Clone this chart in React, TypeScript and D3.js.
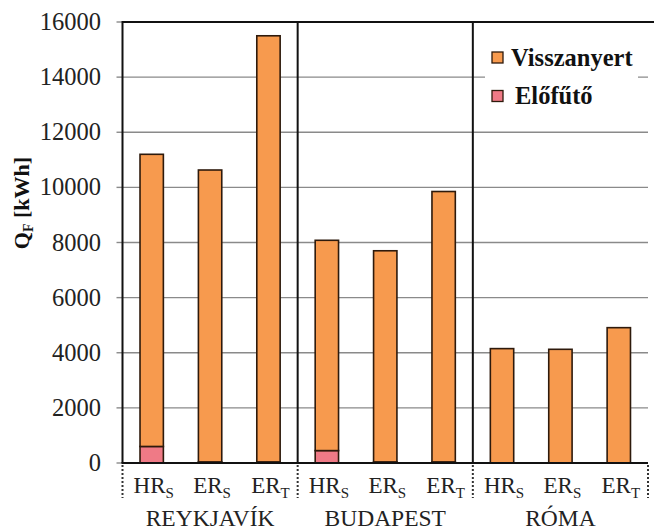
import React from "react";
import * as d3 from "d3";

const cities = ["REYKJAVÍK", "BUDAPEST", "RÓMA"];
const configBase = ["HR", "ER", "ER"];
const configSub = ["S", "S", "T"];
const configKeys = ["HR_S", "ER_S", "ER_T"];
const visszanyert = [
  [10600, 10590, 15460],
  [7630, 7660, 9810],
  [4150, 4125, 4910],
];
const elofuto = [
  [600, 40, 40],
  [450, 40, 40],
  [0, 0, 0],
];
const yTicks = [0, 2000, 4000, 6000, 8000, 10000, 12000, 14000, 16000];
const seriesNames = ["Visszanyert", "Előfűtő"];
const seriesColors = ["#F79A4E", "#EF7A86"];

const W = 654;
const H = 532;
const left = 122.5;
const right = 648;
const top = 22;
const bottom = 463;
const FONT = '"Liberation Serif", "DejaVu Serif", "Times New Roman", serif';

export default function App() {
  const y = d3.scaleLinear().domain([0, 16000]).range([bottom, top]);
  const xg = d3.scaleBand().domain(cities).range([left, right]).padding(0);
  const xi = d3
    .scaleBand()
    .domain(configKeys)
    .range([0, xg.bandwidth()])
    .paddingInner(0.6)
    .paddingOuter(0.3);

  const separators = [left, ...cities.map((c) => (xg(c) as number) + xg.bandwidth())];
  const ts: React.CSSProperties = { fontFamily: FONT };

  return (
    <svg
      width={W}
      height={H}
      style={{ position: "absolute", left: 0, top: 0, background: "#fff", fontFamily: FONT }}
    >
      {yTicks
        .filter((t) => t !== 0 && t !== 16000)
        .map((t) => (
          <line key={"g" + t} x1={left} x2={right} y1={y(t)} y2={y(t)} stroke="#8a8a8a" strokeWidth={1.4} />
        ))}
      {yTicks.map((t) => (
        <g key={"t" + t}>
          <line x1={left - 6} x2={left} y1={y(t)} y2={y(t)} stroke="#8a8a8a" strokeWidth={1.4} />
          <text x={101} y={y(t) + 8} textAnchor="end" fontSize={24.5} fill="#222" style={ts}>
            {t}
          </text>
        </g>
      ))}
      <rect x={485} y={40} width={153} height={76} fill="#fff" />
      {cities.map((c, ci) =>
        configKeys.map((k, ki) => {
          const x0 = (xg(c) as number) + (xi(k) as number);
          const bw = xi.bandwidth();
          const e = elofuto[ci][ki];
          const v = visszanyert[ci][ki];
          return (
            <g key={c + k}>
              {e > 0 && (
                <rect x={x0} y={y(e)} width={bw} height={y(0) - y(e)} fill={seriesColors[1]} stroke="#2e1a0c" strokeWidth={1.6} />
              )}
              <rect x={x0} y={y(e + v)} width={bw} height={y(e) - y(e + v)} fill={seriesColors[0]} stroke="#2e1a0c" strokeWidth={1.6} />
            </g>
          );
        })
      )}
      <line x1={left} x2={W} y1={top} y2={top} stroke="#111" strokeWidth={2} />
      <line x1={left - 1} x2={right} y1={bottom} y2={bottom} stroke="#111" strokeWidth={2} />
      {separators.slice(0, 3).map((sx, i) => (
        <line key={"s" + i} x1={sx} x2={sx} y1={top - 1} y2={bottom} stroke="#111" strokeWidth={2} />
      ))}
      {separators.map((sx, i) => (
        <line
          key={"d" + i}
          x1={Math.min(sx, 650)}
          x2={Math.min(sx, 650)}
          y1={bottom + 2}
          y2={498}
          stroke="#333"
          strokeWidth={2}
          strokeDasharray="2,2"
        />
      ))}
      {cities.map((c) =>
        configKeys.map((k, ki) => {
          const cx = (xg(c) as number) + (xi(k) as number) + xi.bandwidth() / 2;
          return (
            <text key={"l" + c + k} x={cx + 2} y={493} textAnchor="middle" fontSize={23} fill="#222" style={ts}>
              <tspan>{configBase[ki]}</tspan>
              <tspan dy={5} fontSize={15}>
                {configSub[ki]}
              </tspan>
            </text>
          );
        })
      )}
      {cities.map((c) => (
        <text key={"c" + c} x={(xg(c) as number) + xg.bandwidth() / 2} y={526} textAnchor="middle" fontSize={23.5} fill="#222" style={ts}>
          {c}
        </text>
      ))}
      <text transform="translate(29,203) rotate(-90)" textAnchor="middle" fontSize={22} fontWeight="bold" fill="#111" style={ts}>
        <tspan>Q</tspan>
        <tspan dy={4} fontSize={14}>F</tspan>
        <tspan dy={-4}> [kWh]</tspan>
      </text>
      {seriesNames.map((n, i) => (
        <g key={"lg" + n}>
          <rect x={492} y={52 + i * 38.5} width={11} height={11} fill={seriesColors[i]} stroke="#2e1a0c" strokeWidth={1.3} />
          <text x={i === 0 ? 511 : 515} y={65.5 + i * 38} fontSize={24.5} fontWeight="bold" fill="#111" style={ts}>
            {n}
          </text>
        </g>
      ))}
    </svg>
  );
}
